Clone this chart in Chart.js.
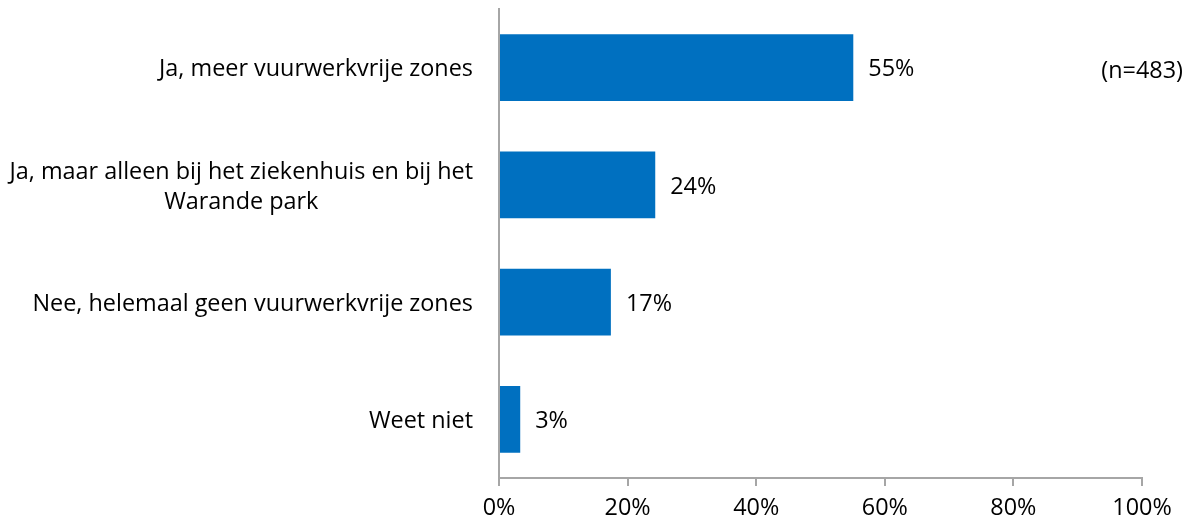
<!DOCTYPE html>
<html>
<head>
<meta charset="utf-8">
<script src="https://cdn.jsdelivr.net/npm/chart.js@4"></script>
<style>
  html, body { margin: 0; padding: 0; background: #fff; }
  #wrap { width: 1192px; height: 523px; }
</style>
</head>
<body>
<div id="wrap"><canvas id="chart"></canvas></div>
<script>
var categories = [
    'Ja, meer vuurwerkvrije zones',
    ['Ja, maar alleen bij het ziekenhuis en bij het', 'Warande park'],
    'Nee, helemaal geen vuurwerkvrije zones',
    'Weet niet'
];
var values = [55.1, 24.3, 17.4, 3.3];
var valueLabels = ['55%', '24%', '17%', '3%'];
var xTicks = [0, 20, 40, 60, 80, 100];
var sampleNote = '(n=483)';

var FONT = '"Open Sans", sans-serif';
var FSIZE = 23.4;

// value labels next to the bars, category labels and the n= note
var textPlugin = {
    id: 'texts',
    afterDatasetsDraw: function (chart) {
        var c = chart.ctx;
        var meta = chart.getDatasetMeta(0);
        c.save();
        c.fillStyle = '#000';
        c.font = FSIZE + 'px ' + FONT;
        c.textBaseline = 'middle';
        c.textAlign = 'left';
        meta.data.forEach(function (bar, i) {
            c.fillText(valueLabels[i], bar.x + 15, bar.y + 2);
        });

        var yScale = chart.scales.y;
        var right = yScale.right - 26;
        categories.forEach(function (label, i) {
            var y = yScale.getPixelForTick(i);
            var lines = Array.isArray(label) ? label : [label];
            var maxW = 0;
            lines.forEach(function (l) { maxW = Math.max(maxW, c.measureText(l).width); });
            var lineH = 30;
            var y0 = y + 2 - (lines.length - 1) * lineH / 2;
            c.textAlign = 'center';
            lines.forEach(function (l, k) {
                c.fillText(l, right - maxW / 2, y0 + k * lineH);
            });
        });

        c.textAlign = 'right';
        c.fillText(sampleNote, 1183, yScale.getPixelForTick(0) + 4);
        c.restore();
    }
};

new Chart(document.getElementById('chart'), {
    type: 'bar',
    data: {
        labels: categories,
        datasets: [{
            data: values,
            backgroundColor: '#0070C0',
            borderWidth: 0,
            categoryPercentage: 1,
            barPercentage: 0.57
        }]
    },
    options: {
        indexAxis: 'y',
        responsive: true,
        maintainAspectRatio: false,
        animation: false,
        layout: { padding: { top: 9, right: 50, left: 0, bottom: 0 } },
        plugins: {
            legend: { display: false },
            tooltip: { enabled: false }
        },
        scales: {
            x: {
                min: 0,
                max: 100,
                afterBuildTicks: function (scale) {
                    scale.ticks = xTicks.map(function (v) { return { value: v }; });
                },
                afterFit: function (scale) { scale.height = 45; },
                border: { color: '#a6a6a6', width: 2 },
                grid: {
                    drawOnChartArea: false,
                    drawTicks: true,
                    tickLength: 8,
                    color: '#a6a6a6',
                    lineWidth: 2
                },
                ticks: {
                    color: '#000',
                    font: { size: FSIZE, family: FONT },
                    padding: 8,
                    maxRotation: 0,
                    callback: function (v) { return v + '%'; }
                }
            },
            y: {
                afterFit: function (scale) { scale.width = 499; },
                border: { color: '#a6a6a6', width: 2 },
                grid: { display: false },
                ticks: { display: false }
            }
        }
    },
    plugins: [textPlugin]
});
</script>
</body>
</html>
